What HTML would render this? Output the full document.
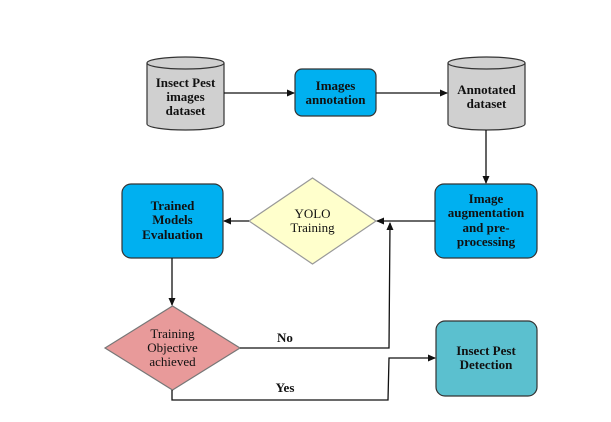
<!DOCTYPE html>
<html><head><meta charset="utf-8"><style>
html,body{margin:0;padding:0;background:#fff;}
svg{display:block;}
text{font-family:"Liberation Serif",serif;font-size:13px;text-anchor:middle;fill:#111;}
.b{font-weight:bold;}
</style></head><body>
<svg width="611" height="422" viewBox="0 0 611 422">
<defs><marker id="a" markerWidth="8" markerHeight="8" refX="7" refY="4" orient="auto" markerUnits="userSpaceOnUse"><path d="M0,0.5 L8,4 L0,7.5 z" fill="#111"/></marker></defs>
<g stroke="#333" stroke-width="1.2">
<path d="M147,63 L147,124 A38.5,6 0 0 0 224,124 L224,63" fill="#d0d0d0"/>
<ellipse cx="185.5" cy="63" rx="38.5" ry="6" fill="#d0d0d0"/>
<path d="M448,63 L448,124 A38.5,6 0 0 0 525,124 L525,63" fill="#d0d0d0"/>
<ellipse cx="486.5" cy="63" rx="38.5" ry="6" fill="#d0d0d0"/>
<rect x="295" y="69" width="81" height="47" rx="7" fill="#00b0f0"/>
<rect x="435" y="184" width="102" height="74" rx="9" fill="#00b0f0"/>
<rect x="122" y="184" width="101" height="74" rx="9" fill="#00b0f0"/>
<polygon points="249,221 312.5,178 376,221 312.5,264" fill="#ffffcc" stroke="#999"/>
<polygon points="105,348 172.5,306 240,348 172.5,390" fill="#e89a9a" stroke="#777"/>
<rect x="436" y="321" width="101" height="75" rx="9" fill="#5bc0cf"/>
</g>
<g stroke="#111" stroke-width="1.3" fill="none">
<line x1="224" y1="93" x2="294" y2="93" marker-end="url(#a)"/>
<line x1="376" y1="93" x2="447" y2="93" marker-end="url(#a)"/>
<line x1="486" y1="130" x2="486" y2="183" marker-end="url(#a)"/>
<line x1="435" y1="221" x2="377" y2="221" marker-end="url(#a)"/>
<line x1="249" y1="221" x2="224" y2="221" marker-end="url(#a)"/>
<line x1="172" y1="258" x2="172" y2="305" marker-end="url(#a)"/>
<polyline points="240,348 389,348 390,223" marker-end="url(#a)"/>
<polyline points="172,390 172,400 388,400 389,358 435,358" marker-end="url(#a)"/>
</g>
<text class="b" x="185.5" y="87">Insect Pest</text>
<text class="b" x="185.5" y="101">images</text>
<text class="b" x="185.5" y="115">dataset</text>
<text class="b" x="335.5" y="90">Images</text>
<text class="b" x="335.5" y="104">annotation</text>
<text class="b" x="486.5" y="94">Annotated</text>
<text class="b" x="486.5" y="108">dataset</text>
<text class="b" x="486" y="203">Image</text>
<text class="b" x="486" y="217">augmentation</text>
<text class="b" x="486" y="232">and pre-</text>
<text class="b" x="486" y="246">processing</text>
<text class="b" x="172.5" y="210">Trained</text>
<text class="b" x="172.5" y="224">Models</text>
<text class="b" x="172.5" y="239">Evaluation</text>
<text x="312.5" y="218">YOLO</text>
<text x="312.5" y="232">Training</text>
<text x="172.5" y="338">Training</text>
<text x="172.5" y="352">Objective</text>
<text x="172.5" y="366">achieved</text>
<text class="b" x="486" y="355">Insect Pest</text>
<text class="b" x="486" y="369">Detection</text>
<text class="b" x="285" y="342">No</text>
<text class="b" x="285" y="392">Yes</text>
</svg>
</body></html>
